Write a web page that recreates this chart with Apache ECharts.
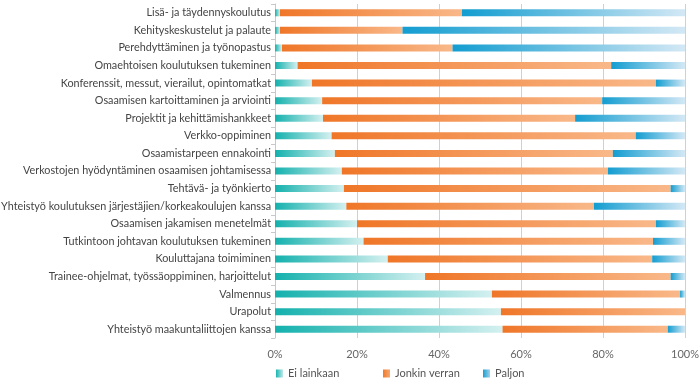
<!DOCTYPE html>
<html>
<head>
<meta charset="utf-8">
<script src="https://cdn.jsdelivr.net/npm/echarts@6/dist/echarts.min.js"></script>
<style>html,body{margin:0;padding:0;background:#fff}#c{width:700px;height:390px}</style>
</head>
<body>
<div id="c"></div>
<script>
var categories = [
  "Lisä- ja täydennyskoulutus",
  "Kehityskeskustelut ja palaute",
  "Perehdyttäminen ja työnopastus",
  "Omaehtoisen koulutuksen tukeminen",
  "Konferenssit, messut, vierailut, opintomatkat",
  "Osaamisen kartoittaminen ja arviointi",
  "Projektit ja kehittämishankkeet",
  "Verkko-oppiminen",
  "Osaamistarpeen ennakointi",
  "Verkostojen hyödyntäminen osaamisen johtamisessa",
  "Tehtävä- ja työnkierto",
  "Yhteistyö koulutuksen järjestäjien/korkeakoulujen kanssa",
  "Osaamisen jakamisen menetelmät",
  "Tutkintoon johtavan koulutuksen tukeminen",
  "Kouluttajana toimiminen",
  "Trainee-ohjelmat, työssäoppiminen, harjoittelut",
  "Valmennus",
  "Urapolut",
  "Yhteistyö maakuntaliittojen kanssa"
];
var eiLainkaan   = [1.2, 1.2, 1.7, 5.5, 9.0, 11.5, 11.7, 13.8, 14.6, 16.3, 16.8, 17.4, 20.0, 21.6, 27.5, 36.6, 52.9, 55.1, 55.5];
var jonkinVerran = [44.4, 29.9, 41.6, 76.5, 83.9, 68.3, 61.5, 74.2, 67.8, 64.9, 79.7, 60.4, 72.9, 70.6, 64.5, 59.9, 45.9, 44.9, 40.3];
var paljon       = [54.4, 68.9, 56.7, 18.0, 7.1, 20.2, 26.8, 12.0, 17.6, 18.8, 3.5, 22.2, 7.1, 7.8, 8.0, 3.5, 1.2, 0.0, 4.2];
var seriesNames = ["Ei lainkaan", "Jonkin verran", "Paljon"];
var xTicks = [0, 20, 40, 60, 80, 100];

function grad(a, b) {
  return new echarts.graphic.LinearGradient(0, 0, 1, 0, [
    {offset: 0, color: a}, {offset: 1, color: b}
  ]);
}
var fills = [
  grad('#14b1ad', '#d4f0f0'),
  grad('#ef7628', '#f9b889'),
  grad('#139dd0', '#d3e8f5')
];
var legendFills = [
  grad('#1ab5b0', '#bfe9e8'),
  grad('#f07a2a', '#f7a76f'),
  grad('#1a9fd1', '#9fd0ea')
];
var legendLeft = [271, 378, 478];
var font = 'Lato, "Open Sans", sans-serif';
var fs = 11;
var chart = echarts.init(document.getElementById('c'), null, {renderer: 'canvas'});
var datas = [eiLainkaan, jonkinVerran, paljon];
chart.setOption({
  animation: false,
  textStyle: {fontFamily: font},
  grid: {left: 275, right: 15, top: 4, bottom: 52, containLabel: false, outerBoundsMode: 'none'},
  legend: seriesNames.map(function (n, i) {
    return {
      left: legendLeft[i], bottom: 6,
      itemWidth: 7, itemHeight: 8,
      icon: 'rect',
      textStyle: {color: '#555', fontSize: fs, fontFamily: font},
      data: [{name: n, itemStyle: {color: legendFills[i]}}]
    };
  }),
  xAxis: {
    type: 'value', min: 0, max: 100, interval: 20,
    axisLine: {show: false}, axisTick: {show: false},
    splitLine: {show: true, lineStyle: {color: '#d0d0d0', width: 1}},
    axisLabel: {color: '#666', fontSize: fs, margin: 11, fontFamily: font,
      formatter: function (v) { return xTicks.indexOf(v) >= 0 ? v + '%' : ''; }}
  },
  yAxis: {
    type: 'category', inverse: true, data: categories,
    axisLine: {show: true, lineStyle: {color: '#c8c8c8'}},
    axisTick: {show: true, length: 4, lineStyle: {color: '#c8c8c8'}},
    axisLabel: {color: '#444', fontSize: 10.8, margin: 4, fontFamily: font}
  },
  series: datas.map(function (d, i) {
    return {
      name: seriesNames[i], type: 'bar', stack: 'total', barWidth: 7,
      itemStyle: {color: fills[i]},
      data: d
    };
  })
});
</script>
</body>
</html>
